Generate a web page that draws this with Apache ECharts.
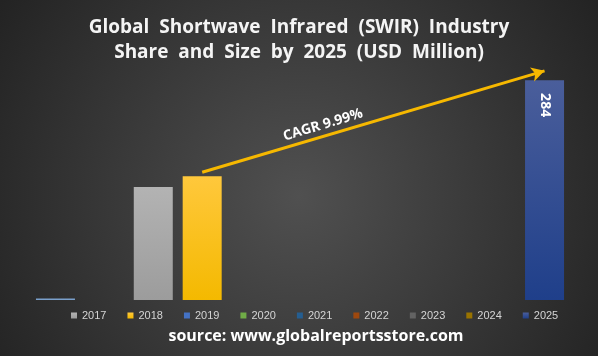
<!DOCTYPE html>
<html>
<head>
<meta charset="utf-8">
<script src="https://cdn.jsdelivr.net/npm/echarts@6/dist/echarts.min.js"></script>
<style>html,body{margin:0;padding:0;background:#333;}#c{width:598px;height:356px;}</style>
</head>
<body>
<div id="c"></div>
<script>
// slots along the x axis (two leading slots precede the legend years)
const slots = ['s0', 's1', '2017', '2018', '2019', '2020', '2021', '2022', '2023', '2024', '2025'];
const years = ['2017', '2018', '2019', '2020', '2021', '2022', '2023', '2024', '2025'];
const values = [146, 160, null, null, null, null, null, null, 284];
const yearColors = ['#a5a5a5', '#ffc000', '#4472c4', '#70ad47', '#255e91', '#9e480e', '#636363', '#997300', '#264478'];
const leadSlotValue = 2;
const titleText = 'Global  Shortwave  Infrared  (SWIR)  Industry\nShare  and  Size  by  2025  (USD  Million)';
const sourceText = 'source: www.globalreportsstore.com';
const cagrText = 'CAGR 9.99%';
const arrowFrom = ['2018', 165];
const arrowTo = ['2025', 296];

const grad = (top, bottom) => ({type: 'linear', x: 0, y: 0, x2: 0, y2: 1,
  colorStops: [{offset: 0, color: top}, {offset: 1, color: bottom}]});
const barFills = {
  '2017': grad('#b3b3b3', '#9c9c9c'),
  '2018': grad('#ffc83c', '#f4b900'),
  '2025': grad('#4a5e9b', '#1f3f8a')
};

const series = years.map((y, i) => {
  const s = {
    name: y, type: 'bar', stack: 'all', barWidth: 39,
    itemStyle: {color: barFills[y] || yearColors[i]},
    data: slots.map(sl => sl === y ? values[i] : null)
  };
  if (y === '2025') {
    s.label = {show: true, position: ['50%', 25], rotate: -90, align: 'center', verticalAlign: 'middle',
      color: '#ffffff', fontFamily: 'Open Sans', fontWeight: 'bold', fontSize: 14};
    s.markLine = {
      silent: true, symbol: ['none', 'arrow'], symbolSize: [11, 13],
      lineStyle: {color: '#f6b800', width: 3, type: 'solid'},
      label: {show: false},
      data: [[{coord: arrowFrom}, {coord: arrowTo}]]
    };
  }
  return s;
});
series.unshift({
  name: 'lead', type: 'bar', stack: 'all', barWidth: 39,
  itemStyle: {color: '#7aa0cc'},
  data: slots.map((sl, i) => i === 0 ? leadSlotValue : null)
});

// legend colors follow the year palette
years.forEach((y, i) => { series[i + 1].color = yearColors[i]; });

const chart = echarts.init(document.getElementById('c'), null, {renderer: 'canvas'});
chart.setOption({
  animation: false,
  backgroundColor: {type: 'radial', x: 0.5, y: 0.55, r: 1.0,
    colorStops: [{offset: 0, color: '#505050'}, {offset: 1, color: '#232323'}]},
  title: [{
    text: titleText, left: 294, top: 10, textAlign: 'center',
    textStyle: {color: '#f4f4f4', fontFamily: 'Open Sans', fontWeight: 'bold', fontSize: 19, lineHeight: 25}
  }, {
    text: sourceText, left: 311, top: 323, textAlign: 'center',
    textStyle: {color: '#ffffff', fontFamily: 'Open Sans', fontWeight: 'bold', fontSize: 16}
  }],
  legend: {
    data: years, left: 71, top: 310, padding: 0, icon: 'rect',
    itemWidth: 6, itemHeight: 6, itemGap: 21,
    textStyle: {color: '#d4d4d4', fontFamily: 'Liberation Sans', fontSize: 11}
  },
  grid: {left: 31, right: 29, top: 60, bottom: 56},
  xAxis: {type: 'category', data: slots, show: false},
  yAxis: {type: 'value', min: 0, max: 310, show: false},
  graphic: [{
    type: 'text', x: 323, y: 125, rotation: 16.8 * Math.PI / 180,
    style: {text: cagrText, fill: '#ffffff', font: 'bold 14px "Open Sans"', textAlign: 'center', textVerticalAlign: 'middle'}
  }],
  series: series
});
</script>
</body>
</html>
